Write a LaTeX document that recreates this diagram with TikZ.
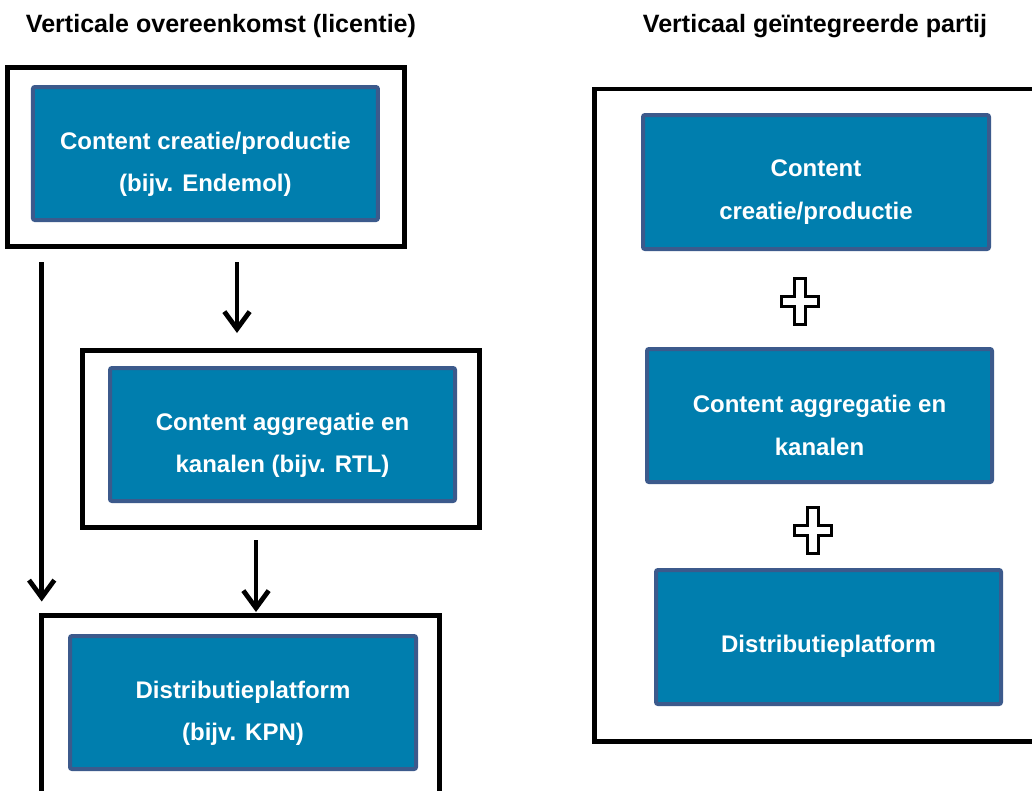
\documentclass[tikz,border=0pt]{standalone}
\usepackage{fontspec}
\setmainfont{Liberation Sans}
\usetikzlibrary{arrows.meta}
\newdimen\pxu \pxu=0.75pt
\definecolor{boxblue}{RGB}{0,126,174}
\definecolor{boxedge}{RGB}{60,90,140}
\tikzset{
  outerbox/.style={draw=black, line width=3.4pt, inner sep=0pt, outer sep=0pt, fill=white},
  bluebox/.style={draw=boxedge, fill=boxblue, line width=3pt, rounded corners=1.5pt, inner sep=0pt, outer sep=0pt,
    text=white, align=center, font=\fontsize{18pt}{32pt}\selectfont\bfseries},
  title/.style={anchor=base, font=\fontsize{18.8pt}{22pt}\selectfont\bfseries, inner sep=0pt},
  arr/.style={line width=3.6pt, -{Straight Barb[length=13pt, width=19pt]}},
  plussign/.pic={\draw[line width=2.25pt, fill=white] (-5.5,-23) -- (5.5,-23) -- (5.5,-5) -- (18.5,-5) -- (18.5,5) -- (5.5,5) -- (5.5,23) -- (-5.5,23) -- (-5.5,5) -- (-18.5,5) -- (-18.5,-5) -- (-5.5,-5) -- cycle;}
}
\begin{document}
\begin{tikzpicture}[x=0.75pt, y=-0.75pt]
\useasboundingbox (0,0) rectangle (1032,790);
\clip (0,0) rectangle (1032,790);
% titles
\node[title] (t1) at (221,32.3) {Verticale overeenkomst (licentie)};
\node[title] (t2) at (815,32.3) {Verticaal geïntegreerde partij};
% left column
\node[outerbox, minimum width=397\pxu, minimum height=179\pxu] (o1) at (206,157) {};
\node[bluebox, minimum width=345\pxu, minimum height=133\pxu] (b1) at (205.4,153.5) {\rule{0pt}{29pt}Content creatie/productie\\(bijv. Endemol)};
\node[outerbox, minimum width=397\pxu, minimum height=177\pxu] (o2) at (281,439) {};
\node[bluebox, minimum width=345\pxu, minimum height=133\pxu] (b2) at (282.5,434.5) {\rule{0pt}{29pt}Content aggregatie en\\kanalen (bijv. RTL)};
\node[outerbox, minimum width=398\pxu, minimum height=179\pxu] (o3) at (240.5,705) {};
\node[bluebox, minimum width=346\pxu, minimum height=133\pxu] (b3) at (243,702.5) {\rule{0pt}{29pt}Distributieplatform\\(bijv. KPN)};
% arrows
\coordinate (xa) at (237,0);
\coordinate (xb) at (41.7,0);
\coordinate (xc) at (256,0);
\draw[arr, shorten <=15.5\pxu, shorten >=17.5\pxu] (o1.south -| xa) -- (o2.north -| xa);
\draw[arr, shorten <=15.5\pxu, shorten >=14\pxu] (o1.south -| xb) -- (o3.north -| xb);
\draw[arr, shorten <=12.5\pxu, shorten >=3.5\pxu] (o2.south -| xc) -- (o3.north -| xc);
% right column
\node[outerbox, minimum width=455.5\pxu, minimum height=652.5\pxu] (big) at (822.25,415.25) {};
\node[bluebox, minimum width=346\pxu, minimum height=134\pxu] (r1) at (816,182) {\rule{0pt}{28pt}Content\\creatie/productie};
\node[bluebox, minimum width=345\pxu, minimum height=133\pxu] (r2) at (819.5,415.5) {\rule{0pt}{28pt}Content aggregatie en\\kanalen};
\node[bluebox, minimum width=345\pxu, minimum height=134\pxu] (r3) at (828.5,637) {\rule{0pt}{26.5pt}Distributieplatform};
\pic (p1) at (799.5,301) {plussign};
\pic (p2) at (813,530) {plussign};
\end{tikzpicture}
\end{document}
